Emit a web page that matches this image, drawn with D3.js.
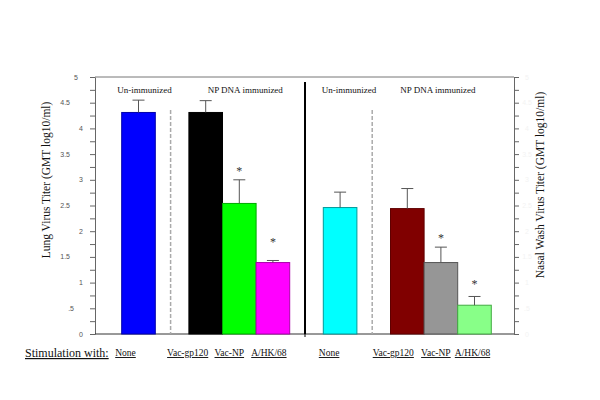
<!DOCTYPE html>
<html><head><meta charset="utf-8">
<script src="https://cdn.jsdelivr.net/npm/d3@7"></script>
<style>body{margin:0;background:#fff}svg{display:block}</style>
</head><body><svg id="c" width="600" height="400"></svg>
<script>
// ---- data ----
const lungCategories = ["None", "Vac-gp120", "Vac-NP", "A/HK/68"];
const lungValues = [4.31, 4.31, 2.54, 1.39];
const lungErrors = [0.24, 0.23, 0.46, 0.04];
const lungSig = [false, false, true, true];
const nasalCategories = ["None", "Vac-gp120", "Vac-NP", "A/HK/68"];
const nasalValues = [2.46, 2.44, 1.39, 0.56];
const nasalErrors = [0.30, 0.39, 0.30, 0.17];
const nasalSig = [false, false, true, true];
const yTickLabels = ["0", ".5", "1", "1.5", "2", "2.5", "3", "3.5", "4", "4.5", "5"];
const groupLabels = ["Un-immunized", "NP DNA immunized"];
const lungColors = ["#0000ff", "#000000", "#00ff00", "#ff00ff"];
const nasalColors = ["#00ffff", "#800000", "#969696", "#88ff88"];
const lungStroke = ["#0000aa", "#000000", "#00aa00", "#aa00aa"];
const nasalStroke = ["#009999", "#600000", "#555555", "#44aa44"];

// ---- layout ----
const svg = d3.select("#c");
const plotTop = 77, plotBottom = 334, plotLeft = 95, plotRight = 514;
const y = d3.scaleLinear().domain([0, 5]).range([plotBottom, plotTop]);
const slots = ["L0", "Lgap", "L1", "L2", "L3", "Mgap", "R0", "Rgap", "R1", "R2", "R3"];
const x = d3.scaleBand().domain(slots).range([121.7, 121.7 + 11 * 33.6]).padding(0);
const serif = "Liberation Serif, Times New Roman, serif";
const sans = "Liberation Sans, Arial, sans-serif";

const bars = [];
lungValues.forEach((v, i) => bars.push({slot: "L" + i, v, e: lungErrors[i], sig: lungSig[i], fill: lungColors[i], stroke: lungStroke[i], label: lungCategories[i]}));
nasalValues.forEach((v, i) => bars.push({slot: "R" + i, v, e: nasalErrors[i], sig: nasalSig[i], fill: nasalColors[i], stroke: nasalStroke[i], label: nasalCategories[i]}));

// frame top line
svg.append("line").attr("x1", plotLeft).attr("x2", plotRight).attr("y1", plotTop).attr("y2", plotTop)
  .attr("stroke", "#777").attr("stroke-width", 1);

// left axis
const tickVals = d3.range(0, 5.001, 0.25);
const gl = svg.append("g").attr("transform", `translate(${plotLeft},0)`)
  .call(d3.axisLeft(y).tickValues(tickVals).tickSize(5).tickSizeOuter(0).tickFormat(""));
gl.selectAll("path,line").attr("stroke", "#666");
svg.append("g").selectAll("text").data(yTickLabels).join("text")
  .attr("x", (d, i) => (i % 2 === 0 ? (i === 10 ? 76 : 81) : (i === 1 ? 74 : 70)))
  .attr("y", (d, i) => y(i * 0.5) + 2.5)
  .attr("text-anchor", (d, i) => (i % 2 === 0 ? "middle" : "end"))
  .attr("font-family", sans).attr("font-size", 7).attr("fill", "#555")
  .text(d => d);

// right axis
const gr = svg.append("g").attr("transform", `translate(${plotRight},0)`)
  .call(d3.axisRight(y).tickValues(tickVals).tickSize(5).tickSizeOuter(0).tickFormat(""));
gr.selectAll("path,line").attr("stroke", "#666");
svg.append("g").selectAll("text").data(yTickLabels).join("text")
  .attr("x", 527).attr("y", (d, i) => y(i * 0.5) + 2.5)
  .attr("text-anchor", "middle")
  .attr("font-family", sans).attr("font-size", 7).attr("fill", "#f3f3f3")
  .text(d => d);

// bottom axis line
svg.append("line").attr("x1", plotLeft).attr("x2", plotRight).attr("y1", plotBottom).attr("y2", plotBottom)
  .attr("stroke", "#333").attr("stroke-width", 1);

// dividers
const gapX = s => x(s) + x.bandwidth() / 2 - 1.5;
svg.append("line").attr("x1", gapX("Lgap")).attr("x2", gapX("Lgap")).attr("y1", 110).attr("y2", plotBottom)
  .attr("stroke", "#aaa").attr("stroke-width", 1.5).attr("stroke-dasharray", "4,2");
svg.append("line").attr("x1", gapX("Rgap")).attr("x2", gapX("Rgap")).attr("y1", 110).attr("y2", plotBottom)
  .attr("stroke", "#aaa").attr("stroke-width", 1.5).attr("stroke-dasharray", "4,2");
svg.append("line").attr("x1", gapX("Mgap")).attr("x2", gapX("Mgap")).attr("y1", 82).attr("y2", plotBottom)
  .attr("stroke", "#000").attr("stroke-width", 2);
svg.append("line").attr("x1", gapX("Mgap")).attr("x2", gapX("Mgap")).attr("y1", plotBottom).attr("y2", plotBottom + 3)
  .attr("stroke", "#000").attr("stroke-width", 1);

// bars
svg.append("g").selectAll("rect").data(bars).join("rect")
  .attr("x", d => x(d.slot)).attr("width", x.bandwidth())
  .attr("y", d => y(d.v)).attr("height", d => y(0) - y(d.v))
  .attr("fill", d => d.fill).attr("stroke", d => d.stroke).attr("stroke-width", 1);

// error bars
const eg = svg.append("g").attr("stroke", "#555").attr("stroke-width", 1);
bars.forEach(d => {
  const cx = x(d.slot) + x.bandwidth() / 2;
  eg.append("line").attr("x1", cx).attr("x2", cx).attr("y1", y(d.v)).attr("y2", y(d.v + d.e));
  eg.append("line").attr("x1", cx - 6).attr("x2", cx + 6).attr("y1", y(d.v + d.e)).attr("y2", y(d.v + d.e));
});

// asterisks
svg.append("g").selectAll("text").data(bars.filter(d => d.sig)).join("text")
  .attr("x", d => x(d.slot) + x.bandwidth() / 2)
  .attr("y", d => Math.min(y(d.v) - 24, y(d.v + d.e) - 12) + 7)
  .attr("text-anchor", "middle").attr("font-family", serif).attr("font-size", 12).attr("fill", "#333")
  .text("*");

// group labels
const groupCenters = [
  [x("L0") + x.bandwidth() / 2 + 6, (x("L1") + x("L3") + x.bandwidth()) / 2 + 6],
  [x("R0") + x.bandwidth() / 2 + 9, (x("R1") + x("R3") + x.bandwidth()) / 2 - 3]
];
groupCenters.forEach(pair => pair.forEach((cx, j) => {
  svg.append("text").attr("x", cx).attr("y", 93).attr("text-anchor", "middle")
    .attr("font-family", serif).attr("font-size", 9).attr("fill", "#111").text(groupLabels[j]);
}));

// y titles
svg.append("text").attr("transform", `translate(50,180) rotate(-90)`).attr("text-anchor", "middle")
  .attr("font-family", serif).attr("font-size", 11.5).attr("fill", "#111")
  .text("Lung Virus Titer (GMT log10/ml)");
svg.append("text").attr("transform", `translate(544,185) rotate(-90)`).attr("text-anchor", "middle")
  .attr("font-family", serif).attr("font-size", 11.5).attr("fill", "#111")
  .text("Nasal Wash Virus Titer (GMT log10/ml)");

// stimulation labels
svg.append("text").attr("x", 25).attr("y", 357).attr("font-family", serif).attr("font-size", 12)
  .attr("fill", "#111").attr("text-decoration", "underline").text("Stimulation with:");
const labelShift = {L0: -13, L1: -18, L2: -10, L3: -4, R0: -11, R1: -14, R2: -5, R3: -2};
svg.append("g").selectAll("text").data(bars).join("text")
  .attr("x", d => x(d.slot) + x.bandwidth() / 2 + labelShift[d.slot])
  .attr("y", 356).attr("text-anchor", "middle")
  .attr("font-family", serif).attr("font-size", 9.5).attr("fill", "#111")
  .attr("text-decoration", "underline")
  .text(d => d.label);
</script>
</body></html>
